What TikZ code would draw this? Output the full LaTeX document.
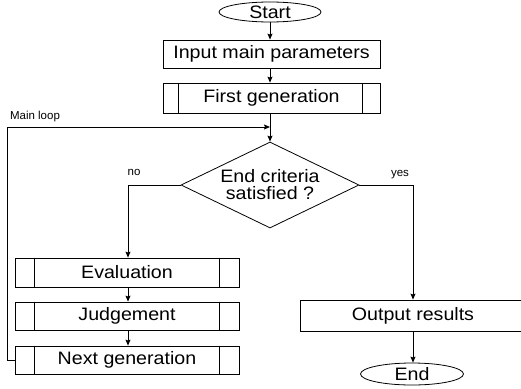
\documentclass[tikz,border=0pt]{standalone}
\usepackage{fontspec}
\setmainfont{Liberation Sans}
\newfontfamily\cadfont{Liberation Sans}[FakeStretch=1.09]
\usetikzlibrary{shapes.geometric,arrows.meta}
\begin{document}
\begin{tikzpicture}[x=1pt,y=-1pt, line width=0.8pt,
  >={Stealth[length=6pt,width=5pt,inset=1pt]},
  box/.style={draw, rectangle, inner sep=0pt, font=\cadfont\fontsize{18}{20}\selectfont},
  term/.style={draw, ellipse, inner sep=0pt, font=\cadfont\fontsize{18}{20}\selectfont},
  decision/.style={draw, diamond, aspect=2.07, inner sep=0pt, align=center, font=\cadfont\fontsize{18}{17}\selectfont},
  small/.style={font=\fontsize{11.5}{13}\selectfont, inner sep=0pt}]
\useasboundingbox (0,0) rectangle (521,388);
\clip (0,0) rectangle (521,388);
\fill[white] (0,0) rectangle (521,388);

\node[term, minimum width=102pt, minimum height=20pt] (start) at (270,12) {Start};
\node[box, minimum width=217pt, minimum height=28pt] (input) at (271.5,54) {Input main parameters};
\node[box, minimum width=217pt, minimum height=30pt] (first) at (271.5,98) {First generation};
\draw ([xshift=16pt]first.north west) -- ([xshift=16pt]first.south west);
\draw ([xshift=-18pt]first.north east) -- ([xshift=-18pt]first.south east);

\node[decision, minimum width=178pt, minimum height=86pt] (dec) at (270,185) {End criteria\\satisfied ?};

\node[box, minimum width=224pt, minimum height=29pt] (eval) at (127,272.5) {Evaluation};
\node[box, minimum width=224pt, minimum height=28pt] (judge) at (127,316) {Judgement};
\node[box, minimum width=224pt, minimum height=28pt] (next) at (127,360) {Next generation};
\foreach \n in {eval,judge,next}{
  \draw ([xshift=20pt]\n.north west) -- ([xshift=20pt]\n.south west);
  \draw ([xshift=-20pt]\n.north east) -- ([xshift=-20pt]\n.south east);
}

\node[box, minimum width=226pt, minimum height=31pt] (output) at (413,315.5) {Output results};
\node[term, minimum width=103pt, minimum height=22pt] (end) at (412,374) {End};

\coordinate (join) at (270,127);
\coordinate (loopbl) at (7,360);
\coordinate (looptl) at (7,127);
\coordinate (nocorner) at (128,185);
\coordinate (yescorner) at (413,185);

\draw[->] (start.south) -- (start.south |- input.north);
\draw[->] (start.south |- input.south) -- (start.south |- first.north);
\draw[->] (start.south |- first.south) -- (dec.north);
\draw[->] (next.west) -- (loopbl) -- (looptl) -- (join);
\draw[->] (dec.west) -- (nocorner) -- (nocorner |- eval.north);
\draw[->] (nocorner |- eval.south) -- (nocorner |- judge.north);
\draw[->] (nocorner |- judge.south) -- (nocorner |- next.north);
\draw[->] (dec.east) -- (yescorner) -- (yescorner |- output.north);
\draw[->] (yescorner |- output.south) -- (yescorner |- end.north);

\node[small] (mainloop) at (35,117) {Main loop};
\node[small] (nolabel) at (134,172) {no};
\node[small] (yeslabel) at (400,175) {yes};
\end{tikzpicture}
\end{document}
